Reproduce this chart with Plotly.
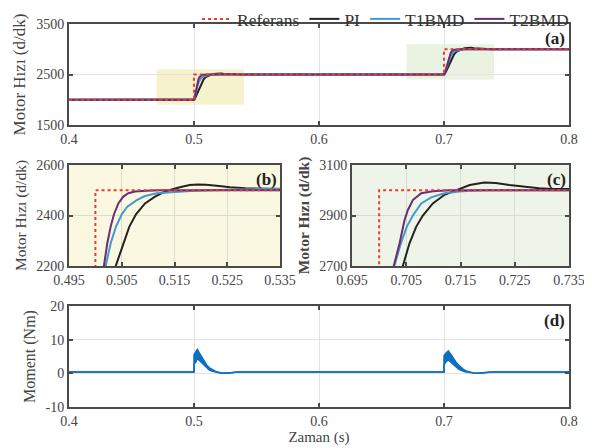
import plotly.graph_objects as go

# ---------------- data ----------------
t_ref = [0.4, 0.5, 0.5, 0.7, 0.7, 0.8]
w_ref = [2000, 2000, 2500, 2500, 3000, 3000]

t_pi = [0.4, 0.5, 0.5006, 0.5022, 0.50391, 0.5053, 0.50644, 0.5077, 0.50941, 0.5113,
        0.5132, 0.5160, 0.5179, 0.5195, 0.5210, 0.5235, 0.5255, 0.5285, 0.5315, 0.535,
        0.540, 0.545, 0.7, 0.7006, 0.7024, 0.70437, 0.7056, 0.70684, 0.70806, 0.7099,
        0.71205, 0.7143, 0.7167, 0.7194, 0.7215, 0.7240, 0.7270, 0.7295, 0.7320, 0.7344,
        0.738, 0.742, 0.748, 0.8]
w_pi = [2000, 2000, 2015, 2100, 2200, 2290, 2356, 2405, 2448, 2475,
        2495, 2512, 2521, 2523, 2522, 2517, 2512, 2508, 2505, 2503,
        2501, 2500, 2500, 2512, 2600, 2700, 2790, 2856, 2900, 2948,
        2982, 3001, 3021, 3031, 3029, 3021, 3013, 3008, 3005, 3004,
        3002, 3001, 3000, 3000]

t_t1 = [0.4, 0.5, 0.5003, 0.5011, 0.50195, 0.5029, 0.50391, 0.505, 0.50606, 0.50783,
        0.50941, 0.51163, 0.51577, 0.5180, 0.522, 0.7, 0.7004, 0.7016, 0.70279, 0.70402,
        0.70511, 0.70622, 0.70776, 0.7096, 0.71205, 0.7148, 0.7167, 0.7200, 0.8]
w_t1 = [2000, 2000, 2012, 2100, 2200, 2290, 2356, 2405, 2435, 2461,
        2477, 2488, 2495, 2497, 2500, 2500, 2512, 2600, 2700, 2790,
        2856, 2900, 2948, 2972, 2988, 2995, 2998, 3000, 3000]

t_t2 = [0.4, 0.5, 0.5003, 0.5009, 0.50164, 0.50226, 0.5029, 0.50353, 0.50435, 0.5053,
        0.50624, 0.50751, 0.50973, 0.512, 0.7, 0.7004, 0.7015, 0.70266, 0.70377, 0.70469,
        0.7053, 0.70622, 0.70776, 0.7099, 0.713, 0.8]
w_t2 = [2000, 2000, 2015, 2100, 2200, 2290, 2356, 2405, 2448, 2475,
        2488, 2495, 2498, 2500, 2500, 2515, 2600, 2700, 2790, 2882,
        2922, 2961, 2988, 2996, 3000, 3000]

t_tq = [0.4, 0.5, 0.5, 0.5016, 0.50264, 0.5040, 0.5061, 0.5081, 0.5101, 0.5121,
        0.5141, 0.5165, 0.5181, 0.522, 0.527, 0.535, 0.7, 0.7, 0.7015, 0.7034,
        0.7055, 0.7075, 0.7095, 0.7115, 0.7135, 0.7155, 0.7175, 0.7195, 0.725, 0.73,
        0.738, 0.8]
tq_hi = [0.4, 0.4, 5.5, 6.4, 7.1, 6.2, 4.9, 3.6, 2.5, 1.7,
         1.2, 0.7, 0.5, 0.1, 0.1, 0.4, 0.4, 5.2, 6.0, 6.7,
         5.6, 4.4, 3.4, 2.5, 1.8, 1.2, 0.8, 0.5, 0.05, 0.1,
         0.4, 0.4]
tq_lo = [0.4, 0.4, 2.8, 3.4, 4.4, 3.9, 3.0, 2.2, 1.5, 1.0,
         0.7, 0.4, 0.3, 0.0, 0.05, 0.4, 0.4, 2.5, 3.4, 4.0,
         3.3, 2.5, 1.9, 1.3, 0.9, 0.6, 0.4, 0.3, 0.0, 0.05,
         0.4, 0.4]

ticks_a_x = [0.4, 0.5, 0.6, 0.7, 0.8]
ticks_a_y = [1500, 2500, 3500]
ticks_b_x = [0.495, 0.505, 0.515, 0.525, 0.535]
ticks_b_y = [2200, 2400, 2600]
ticks_c_x = [0.695, 0.705, 0.715, 0.725, 0.735]
ticks_c_y = [2700, 2900, 3100]
ticks_d_y = [-10, 0, 10, 20]

zoom_b = [0.47, 0.54, 1900, 2600]
zoom_c = [0.67, 0.74, 2400, 3100]

# ---------------- styling ----------------
FONT = "Liberation Serif, Times New Roman, serif"
C_REF = "#EE3B2F"
C_PI = "#222222"
C_T1 = "#4499CC"
C_T2 = "#6A2C72"
C_TQ = "#0E6FBF"
FRAME = "#4A4A4A"
BG_B = "#FAF8E1"
BG_C = "#EEF5E8"

# page is 592x448; the html body has an 8px margin, so the figure starts at (8, 8)
OFF = 8
W, H = 592 - OFF, 448 - OFF


def dom_x(a, b):
    return [(a - OFF) / W, (b - OFF) / W]


def dom_y(top, bottom):
    return [1 - (bottom - OFF) / H, 1 - (top - OFF) / H]


fig = go.Figure()

series = [
    ("PI", t_pi, w_pi, C_PI, "solid", 2),
    ("T1BMD", t_t1, w_t1, C_T1, "solid", 3),
    ("T2BMD", t_t2, w_t2, C_T2, "solid", 4),
    ("Referans", t_ref, w_ref, C_REF, "dot", 1),
]
for k, (xa, ya) in enumerate([("x", "y"), ("x2", "y2"), ("x3", "y3")]):
    for name, tt, ww, col, dash, rank in series:
        fig.add_trace(go.Scatter(
            x=tt, y=ww, mode="lines", name=name, legendrank=rank,
            line=dict(color=col, width=2, dash=dash),
            xaxis=xa, yaxis=ya, showlegend=(k == 0),
        ))

fig.add_trace(go.Scatter(x=t_tq, y=tq_lo, mode="lines", line=dict(color=C_TQ, width=1.5),
                         xaxis="x4", yaxis="y4", showlegend=False))
fig.add_trace(go.Scatter(x=t_tq, y=tq_hi, mode="lines", line=dict(color=C_TQ, width=1.5),
                         fill="tonexty", fillcolor=C_TQ,
                         xaxis="x4", yaxis="y4", showlegend=False))

axis_common = dict(
    showline=True, mirror="ticks", linecolor=FRAME, linewidth=2,
    ticks="inside", ticklen=4, tickwidth=2, tickcolor=FRAME,
    showgrid=True, gridcolor="#E2E2E2", gridwidth=1, zeroline=False,
    automargin=False,
    tickfont=dict(family=FONT, size=14, color="#444444"),
)


def fmt(v):
    return ("%g" % v)


fig.update_layout(
    width=W, height=H,
    margin=dict(l=0, r=0, t=0, b=0, autoexpand=False),
    paper_bgcolor="white", plot_bgcolor="white",
    font=dict(family=FONT, color="#333333"),
    showlegend=True,
    legend=dict(orientation="h", x=(197 - OFF) / W, xanchor="left", y=1 + 7 / H, yanchor="top",
                font=dict(family=FONT, size=17.5, color="#333333"),
                bgcolor="rgba(0,0,0,0)", traceorder="normal"),
    xaxis=dict(axis_common, domain=dom_x(69, 569), range=[0.4, 0.8], anchor="y",
               tickvals=ticks_a_x, ticktext=[fmt(v) for v in ticks_a_x]),
    yaxis=dict(axis_common, domain=dom_y(24, 125), range=[1500, 3500], anchor="x",
               tickvals=ticks_a_y, ticktext=[fmt(v) for v in ticks_a_y],
               title=dict(text="Motor Hızı (d/dk)", standoff=6,
                          font=dict(family=FONT, size=17, color="#444444"))),
    xaxis2=dict(axis_common, domain=dom_x(69, 280), range=[0.495, 0.535], anchor="y2",
                tickvals=ticks_b_x, ticktext=[fmt(v) for v in ticks_b_x],
                gridcolor="#DCDCCC"),
    yaxis2=dict(axis_common, domain=dom_y(165, 266), range=[2200, 2600], anchor="x2",
                tickvals=ticks_b_y, ticktext=[fmt(v) for v in ticks_b_y],
                gridcolor="#DCDCCC",
                title=dict(text="Motor Hızı (d/dk)", standoff=6,
                           font=dict(family=FONT, size=15.5, color="#444444"))),
    xaxis3=dict(axis_common, domain=dom_x(352, 569), range=[0.695, 0.735], anchor="y3",
                tickvals=ticks_c_x, ticktext=[fmt(v) for v in ticks_c_x],
                gridcolor="#D6DDD2"),
    yaxis3=dict(axis_common, domain=dom_y(165, 266), range=[2700, 3100], anchor="x3",
                tickvals=ticks_c_y, ticktext=[fmt(v) for v in ticks_c_y],
                gridcolor="#D6DDD2",
                title=dict(text="<b>Motor Hızı (d/dk)</b>", standoff=6,
                           font=dict(family=FONT, size=15.5, color="#444444"))),
    xaxis4=dict(axis_common, domain=dom_x(69, 569), range=[0.4, 0.8], anchor="y4",
                tickvals=ticks_a_x, ticktext=[fmt(v) for v in ticks_a_x],
                title=dict(text="Zaman (s)", standoff=4,
                           font=dict(family=FONT, size=15, color="#444444"))),
    yaxis4=dict(axis_common, domain=dom_y(306, 407), range=[-10, 20], anchor="x4",
                tickvals=ticks_d_y, ticktext=[fmt(v) for v in ticks_d_y],
                title=dict(text="Moment (Nm)", standoff=6,
                           font=dict(family=FONT, size=16, color="#444444"))),
)

# backgrounds of zoom panels and zoom windows in panel (a)
fig.add_shape(type="rect", xref="x2 domain", yref="y2 domain", x0=0, x1=1, y0=0, y1=1,
              fillcolor=BG_B, line_width=0, layer="below")
fig.add_shape(type="rect", xref="x3 domain", yref="y3 domain", x0=0, x1=1, y0=0, y1=1,
              fillcolor=BG_C, line_width=0, layer="below")
fig.add_shape(type="rect", xref="x", yref="y", x0=zoom_b[0], x1=zoom_b[1], y0=zoom_b[2], y1=zoom_b[3],
              fillcolor="#F6F3CC", line_width=0, layer="below")
fig.add_shape(type="rect", xref="x", yref="y", x0=zoom_c[0], x1=zoom_c[1], y0=zoom_c[2], y1=zoom_c[3],
              fillcolor="#EAF3E2", line_width=0, layer="below")

for lab, ax in [("(a)", ""), ("(b)", "2"), ("(c)", "3"), ("(d)", "4")]:
    fig.add_annotation(text="<b>%s</b>" % lab, xref="x%s domain" % ax, yref="y%s domain" % ax,
                       x=0.995, y=0.97, xanchor="right", yanchor="top", showarrow=False,
                       font=dict(family=FONT, size=17, color="#222222"))

fig.write_html("out.html")
